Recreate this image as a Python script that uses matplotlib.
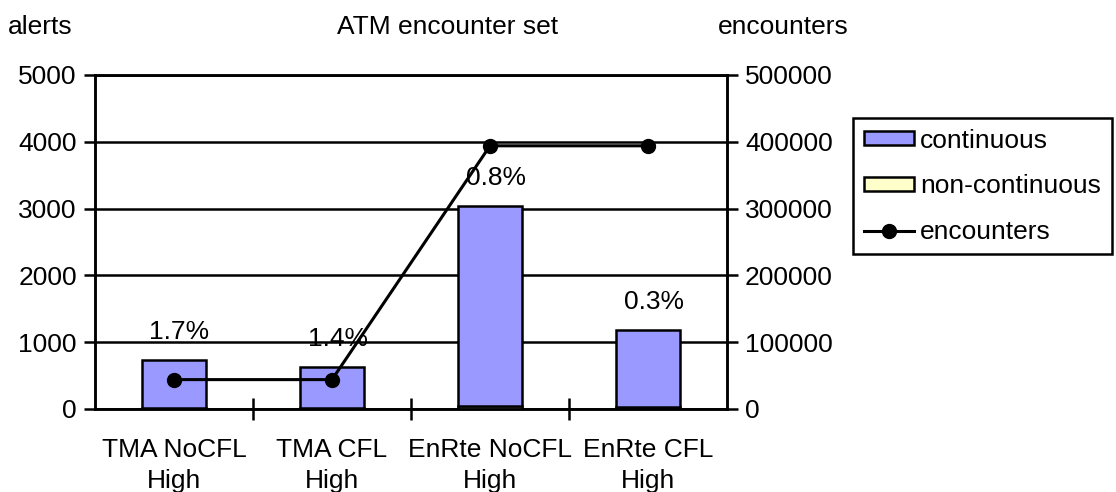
import numpy as np
import matplotlib
matplotlib.use("Agg")
import matplotlib.pyplot as plt
from matplotlib.lines import Line2D
from matplotlib.patches import Patch

# -----------------------------
# Data
# -----------------------------
categories = ["TMA NoCFL\nHigh", "TMA CFL\nHigh", "EnRte NoCFL\nHigh", "EnRte CFL\nHigh"]
non_continuous = [10, 8, 50, 25]
continuous = [725, 620, 2990, 1160]
encounters = [44000, 44000, 394000, 394000]
pct_labels = ["1.7%", "1.4%", "0.8%", "0.3%"]

FS = 19
plt.rcParams["font.family"] = ["Liberation Sans", "DejaVu Sans"]
plt.rcParams["font.size"] = FS

# -----------------------------
# Figure
# -----------------------------
fig = plt.figure(figsize=(11.16, 4.92), dpi=100)
ax = fig.add_axes([95 / 1116, 83 / 492, 632 / 1116, 334 / 492])
x = np.arange(len(categories))

ax.bar(x, non_continuous, width=0.405, color="#FFFFCC", edgecolor="black", linewidth=1.8, zorder=3)
ax.bar(x, continuous, width=0.405, bottom=non_continuous, color="#9999FF",
       edgecolor="black", linewidth=1.8, zorder=3)

totals = np.array(non_continuous) + np.array(continuous)
for i, lab in enumerate(pct_labels):
    ax.annotate(lab, (x[i], totals[i]), xytext=(4, 15), textcoords="offset points",
                ha="center", va="baseline", fontsize=FS, zorder=6)

ax.set_xlim(-0.5, len(categories) - 0.5)
ax.set_ylim(0, 5000)
ax.set_yticks(range(0, 5001, 1000))
ax.yaxis.grid(True, color="black", linewidth=1.8, zorder=0)
ax.set_axisbelow(True)
ax.set_xticks(x)
ax.set_xticklabels(categories, linespacing=1.35)
ax.set_xticks(np.arange(0.5, len(categories) - 0.5), minor=True)
ax.tick_params(axis="x", which="major", length=0, pad=21)
ax.tick_params(axis="x", which="minor", direction="inout", length=16, width=1.8)
ax.tick_params(axis="y", direction="out", length=8, width=1.8, pad=5)
for s in ["left", "bottom", "right", "top"]:
    ax.spines[s].set_linewidth(1.8)

ax2 = ax.twinx()
ax2.plot(x, encounters, color="black", linewidth=2.2, marker="o", markersize=10, zorder=5)
ax2.set_ylim(0, 500000)
ax2.set_yticks(range(0, 500001, 100000))
ax2.tick_params(axis="y", direction="out", length=8, width=1.8, pad=5)
for s in ["left", "bottom", "right", "top"]:
    ax2.spines[s].set_linewidth(1.8)

# titles
fig.text(8 / 1116, 1 - 27 / 492, "alerts", ha="left", va="center", fontsize=FS)
fig.text(448 / 1116, 1 - 27 / 492, "ATM encounter set", ha="center", va="center", fontsize=FS)
fig.text(783 / 1116, 1 - 27 / 492, "encounters", ha="center", va="center", fontsize=FS)

# legend
handles = [
    Patch(facecolor="#9999FF", edgecolor="black", linewidth=1.8, label="continuous"),
    Patch(facecolor="#FFFFCC", edgecolor="black", linewidth=1.8, label="non-continuous"),
    Line2D([0], [0], color="black", linewidth=2.2, marker="o", markersize=10, label="encounters"),
]
leg = fig.legend(handles=handles, loc="upper left", bbox_to_anchor=(853 / 1116, 1 - 118 / 492),
                 fancybox=False, framealpha=1, edgecolor="black", fontsize=FS,
                 handlelength=1.9, handleheight=0.45, handletextpad=0.25,
                 labelspacing=0.82, borderpad=0.4, borderaxespad=0)
leg.get_frame().set_linewidth(1.8)

fig.savefig("out.png", dpi=100)
